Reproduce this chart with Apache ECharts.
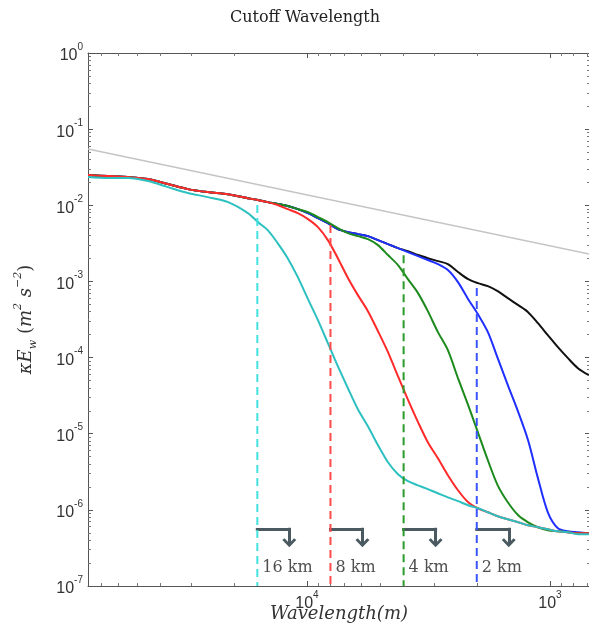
<!DOCTYPE html>
<html>
<head>
<meta charset="utf-8">
<title>Cutoff Wavelength</title>
<script src="https://cdn.jsdelivr.net/npm/echarts@6/dist/echarts.min.js"></script>
<style>
  html, body { margin: 0; padding: 0; background: #fff; }
  #chart { width: 589px; height: 631px; }
</style>
</head>
<body>
<div id="chart"></div>
<script>
// 波长 (m)，x 轴从大到小
const wavelength = [
  79600, 65900, 54500, 45100, 37300, 30900, 25600, 21100, 17500, 15900,
  14500, 13200, 12000, 10900, 9900, 9010, 8200, 7460, 6780, 6170,
  5610, 5100, 4640, 4220, 3840, 3490, 3180, 2890, 2630, 2390,
  2170, 1980, 1800, 1640, 1490, 1350, 1230, 1120, 1020, 927,
  843, 767, 691
]

// 未滤波 (黑)
const unfiltered = [
  2.49e-2, 2.42e-2, 2.35e-2, 2.21e-2, 1.90e-2, 1.63e-2, 1.49e-2, 1.40e-2, 1.24e-2, 1.17e-2,
  1.10e-2, 1.04e-2, 9.76e-3, 8.91e-3, 7.90e-3, 6.79e-3, 5.83e-3, 4.87e-3, 4.44e-3, 4.18e-3,
  3.94e-3, 3.49e-3, 3.09e-3, 2.74e-3, 2.50e-3, 2.22e-3, 2.02e-3, 1.85e-3, 1.69e-3, 1.33e-3,
  1.07e-3, 9.50e-4, 8.68e-4, 7.46e-4, 6.03e-4, 4.88e-4, 3.95e-4, 2.83e-4, 1.97e-4, 1.37e-4,
  9.82e-5, 7.26e-5, 5.87e-5
]

// 2 km (蓝)
const cut2km = [
  2.49e-2, 2.42e-2, 2.35e-2, 2.21e-2, 1.90e-2, 1.63e-2, 1.49e-2, 1.40e-2, 1.24e-2, 1.17e-2,
  1.10e-2, 1.04e-2, 9.76e-3, 8.91e-3, 7.90e-3, 6.79e-3, 5.83e-3, 4.87e-3, 4.44e-3, 4.18e-3,
  3.94e-3, 3.49e-3, 3.09e-3, 2.74e-3, 2.43e-3, 2.15e-3, 1.91e-3, 1.69e-3, 1.41e-3, 9.79e-4,
  5.85e-4, 3.72e-4, 2.16e-4, 9.82e-5, 4.34e-5, 1.92e-5, 8.21e-6, 2.60e-6, 9.30e-7, 5.73e-7,
  5.23e-7, 5.08e-7, 4.93e-7
]

// 4 km (绿)
const cut4km = [
  2.49e-2, 2.42e-2, 2.35e-2, 2.21e-2, 1.90e-2, 1.63e-2, 1.49e-2, 1.40e-2, 1.24e-2, 1.17e-2,
  1.10e-2, 1.04e-2, 9.76e-3, 8.91e-3, 8.14e-3, 7.00e-3, 6.01e-3, 5.02e-3, 4.31e-3, 3.94e-3,
  3.60e-3, 3.00e-3, 2.22e-3, 1.64e-3, 1.07e-3, 7.02e-4, 4.07e-4, 2.16e-4, 1.25e-4, 5.36e-5,
  2.37e-5, 1.05e-5, 4.48e-6, 2.10e-6, 1.26e-6, 8.49e-7, 6.87e-7, 5.91e-7, 5.39e-7, 5.23e-7,
  5.08e-7, 4.93e-7, 4.93e-7
]

// 8 km (红)
const cut8km = [
  2.49e-2, 2.42e-2, 2.35e-2, 2.21e-2, 1.90e-2, 1.63e-2, 1.49e-2, 1.40e-2, 1.24e-2, 1.17e-2,
  1.10e-2, 1.01e-2, 8.91e-3, 7.90e-3, 6.59e-3, 5.17e-3, 3.49e-3, 2.02e-3, 1.11e-3, 6.61e-4,
  4.07e-4, 2.22e-4, 1.18e-4, 5.69e-5, 2.80e-5, 1.42e-5, 7.73e-6, 4.76e-6, 2.85e-6, 1.81e-6,
  1.26e-6, 1.05e-6, 9.30e-7, 8.24e-7, 7.52e-7, 6.87e-7, 6.28e-7, 5.91e-7, 5.56e-7, 5.23e-7,
  5.08e-7, 4.93e-7, 4.93e-7
]

// 16 km (青)
const cut16km = [
  2.35e-2, 2.28e-2, 2.28e-2, 2.08e-2, 1.73e-2, 1.45e-2, 1.28e-2, 1.10e-2, 7.90e-3, 6.01e-3,
  4.72e-3, 3.19e-3, 2.02e-3, 1.14e-3, 5.85e-4, 3.10e-4, 1.55e-4, 7.71e-5, 3.96e-5, 2.10e-5,
  1.25e-5, 7.06e-6, 4.22e-6, 2.94e-6, 2.38e-6, 2.10e-6, 1.87e-6, 1.65e-6, 1.46e-6, 1.30e-6,
  1.15e-6, 1.05e-6, 9.30e-7, 8.24e-7, 7.52e-7, 6.87e-7, 6.28e-7, 5.91e-7, 5.56e-7, 5.23e-7,
  5.08e-7, 4.78e-7, 4.78e-7
]

// 截断波长
const cutoffWavelength = [16000, 8000, 4000, 2000]
const cutoffTop = [1.01e-2, 5.5e-3, 2.2e-3, 8.2e-4]
const cutoffLabels = ['16 km', '8 km', '4 km', '2 km']

// 灰色参考线
const refLineX = [79600, 684]
const refLineY = [5.48e-2, 2.28e-3]

const X_MIN = 684
const X_MAX = 79600
const Y_MIN = 1e-7
const Y_MAX = 1

// 箭头/标注的位置
const ARROW_Y = 5.56e-7
const ARROW_END = 3.7e-7
const ARROW_SPAN = 1.354
const LABEL_Y = 1.72e-7

const curveColors = ['#111111', '#1f2fff', '#1c8a1c', '#ff2a2a', '#2cc0c0']
const dashColors = ['#44e0e0', '#ff4a4a', '#2a9a2a', '#3a55ff']
const arrowColor = '#4a5a60'
const chevron = 'path://M0,6 L5,0 L10,6 L8.4,7.4 L5,3.2 L1.6,7.4 Z'

function zip(xs, ys) {
  return xs.map((x, i) => [x, ys[i]])
}

// 10^n 刻度标签
function powLabel(v) {
  const e = Math.round(Math.log10(v))
  if (Math.abs(v - Math.pow(10, e)) / v > 1e-6) return ''
  return '{b|10}{s|' + (e < 0 ? '-' + (-e) : e) + '}'
}

const tickRich = {
  b: { fontSize: 16, color: '#333', fontFamily: 'Liberation Sans, Arial', lineHeight: 22, verticalAlign: 'bottom' },
  s: { fontSize: 10, color: '#333', fontFamily: 'Liberation Sans, Arial', verticalAlign: 'top' }
}

const axisLine = { show: true, lineStyle: { color: '#555', width: 1 } }

function xAxisOf(pos, showLabel) {
  return {
    type: 'log',
    position: pos,
    inverse: true,
    min: X_MIN,
    max: X_MAX,
    axisLine: axisLine,
    axisTick: { inside: true, length: 5, lineStyle: { color: '#555' } },
    minorTick: { show: true, splitNumber: 9, length: 3, lineStyle: { color: '#777' } },
    splitLine: { show: false },
    minorSplitLine: { show: false },
    axisLabel: { show: showLabel, formatter: powLabel, rich: tickRich, margin: 4 }
  }
}

function yAxisOf(pos, showLabel) {
  return {
    type: 'log',
    position: pos,
    min: Y_MIN,
    max: Y_MAX,
    axisLine: axisLine,
    axisTick: { inside: true, length: 5, lineStyle: { color: '#555' } },
    minorTick: { show: true, splitNumber: 9, length: 3, lineStyle: { color: '#777' } },
    splitLine: { show: false },
    minorSplitLine: { show: false },
    axisLabel: { show: showLabel, formatter: powLabel, rich: tickRich, margin: 5 }
  }
}

const curves = [unfiltered, cut2km, cut4km, cut8km, cut16km]

const series = []

// 灰色参考线
series.push({
  type: 'line',
  data: zip(refLineX, refLineY),
  showSymbol: false,
  silent: true,
  lineStyle: { color: '#c4c4c4', width: 1.5 },
  z: 1
})

// 能谱曲线
curves.forEach((c, i) => {
  series.push({
    type: 'line',
    data: zip(wavelength, c),
    showSymbol: false,
    smooth: 0.3,
    silent: true,
    lineStyle: { color: curveColors[i], width: 2 },
    z: 2 + i
  })
})

// 截断虚线 + 箭头
cutoffWavelength.forEach((w, i) => {
  const w2 = w / ARROW_SPAN
  series.push({
    type: 'line',
    data: [[w, cutoffTop[i]], [w, Y_MIN]],
    showSymbol: false,
    silent: true,
    lineStyle: { color: dashColors[i], width: 2, type: [8, 5] },
    z: 10,
    markLine: {
      silent: true,
      animation: false,
      label: { show: false },
      lineStyle: { color: arrowColor, width: 3, type: 'solid', cap: 'square' },
      emphasis: { disabled: true },
      data: [
        [
          { coord: [w, ARROW_Y], symbol: 'none' },
          { coord: [w2, ARROW_Y], symbol: 'none' }
        ],
        [
          { coord: [w2, ARROW_Y], symbol: 'none' },
          { coord: [w2, ARROW_END], symbol: chevron, symbolSize: [14, 9] }
        ]
      ]
    }
  })
})

// 截断标签
series.push({
  type: 'scatter',
  data: cutoffWavelength.map((w, i) => ({ value: [w, LABEL_Y], name: cutoffLabels[i] })),
  symbolSize: 0,
  silent: true,
  label: {
    show: true,
    position: 'right',
    distance: 5,
    formatter: '{b}',
    fontFamily: 'DejaVu Serif',
    fontSize: 16,
    color: '#222'
  },
  z: 12
})

const chart = echarts.init(document.getElementById('chart'))

chart.setOption({
  animation: false,
  backgroundColor: '#fff',
  title: {
    text: 'Cutoff Wavelength',
    left: 300,
    top: 5,
    textAlign: 'center',
    textStyle: { fontFamily: 'DejaVu Serif', fontWeight: 'normal', fontSize: 16, color: '#222' }
  },
  grid: { left: 88, top: 53, right: -1, bottom: 45, containLabel: false, outerBoundsMode: 'none' },
  xAxis: [
    Object.assign(xAxisOf('bottom', true), {
      name: 'Wavelength(m)',
      nameLocation: 'middle',
      nameGap: 19,
      nameMoveOverlap: false,
      nameTextStyle: { fontFamily: 'DejaVu Serif', fontStyle: 'italic', fontSize: 18, color: '#333' }
    }),
    xAxisOf('top', false)
  ],
  yAxis: [
    Object.assign(yAxisOf('left', true), {
      name: '{i|κE}{sub|w}{n| (}{i|m}{sup|2}{n| }{i|s}{sup|−2}{n|)}',
      nameLocation: 'middle',
      nameGap: 49,
      nameRotate: 90,
      nameMoveOverlap: false,
      nameTextStyle: {
        rich: {
          i: { fontFamily: 'DejaVu Serif', fontStyle: 'italic', fontSize: 18, color: '#333', lineHeight: 26 },
          n: { fontFamily: 'DejaVu Serif', fontSize: 18, color: '#333', lineHeight: 26 },
          sub: { fontFamily: 'DejaVu Serif', fontStyle: 'italic', fontSize: 11, color: '#333', verticalAlign: 'bottom' },
          sup: { fontFamily: 'DejaVu Serif', fontStyle: 'italic', fontSize: 11, color: '#333', verticalAlign: 'top' }
        }
      }
    }),
    yAxisOf('right', false)
  ],
  series: series
})
</script>
</body>
</html>
